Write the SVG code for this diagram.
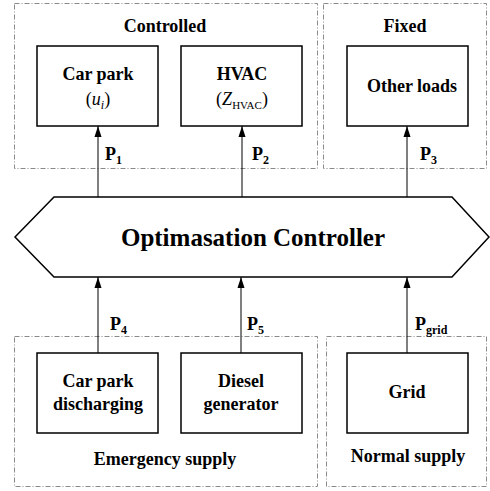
<svg xmlns="http://www.w3.org/2000/svg" width="490" height="491" viewBox="0 0 490 491">
  <style>
    .grp { fill: none; stroke: #8a8a8a; stroke-width: 1; stroke-dasharray: 5 2 1 2; }
    .box { fill: #fff; stroke: #000; stroke-width: 1.5; }
    .wire { fill: none; stroke: #000; stroke-width: 1; marker-end: url(#arrow); }
    text { fill: #000; font-family: "Liberation Serif", "Times New Roman", "DejaVu Serif", serif; }
    .t { font-size: 18px; font-weight: bold; text-anchor: middle; }
    .m { font-size: 18px; text-anchor: middle; }
    .p { font-size: 18px; font-weight: bold; }
    .sub { font-size: 12px; font-weight: bold; }
  </style>
  <defs>
    <!-- slim filled arrowhead, tip at the end of each flow line -->
    <marker id="arrow" viewBox="0 0 11 8" refX="11" refY="4" markerWidth="11" markerHeight="8" markerUnits="userSpaceOnUse" orient="auto">
      <path d="M0,0.5 L11,4 L0,7.5 Z" fill="#000"/>
    </marker>
  </defs>

  <!-- group frames -->
  <g id="groups">
    <rect class="grp" x="14.5" y="3.5" width="303" height="165"/>
    <rect class="grp" x="323.5" y="3.5" width="163" height="165"/>
    <rect class="grp" x="14.5" y="336.5" width="303" height="150"/>
    <rect class="grp" x="326.5" y="336.5" width="160" height="150"/>
    <text class="t" x="165" y="32">Controlled</text>
    <text class="t" x="405" y="32">Fixed</text>
    <text class="t" x="165" y="465">Emergency supply</text>
    <text class="t" x="408" y="462">Normal supply</text>
  </g>

  <!-- power flows -->
  <g id="connectors">
    <line class="wire" x1="98" y1="197" x2="98" y2="126"/>
    <line class="wire" x1="242" y1="197" x2="242" y2="126"/>
    <line class="wire" x1="407" y1="197" x2="407" y2="126"/>
    <line class="wire" x1="98" y1="353" x2="98" y2="277"/>
    <line class="wire" x1="241" y1="353" x2="241" y2="277"/>
    <line class="wire" x1="407" y1="353" x2="407" y2="277"/>
    <text class="p" x="105" y="160">P<tspan class="sub" dy="4">1</tspan></text>
    <text class="p" x="252" y="160">P<tspan class="sub" dy="4">2</tspan></text>
    <text class="p" x="420" y="160">P<tspan class="sub" dy="4">3</tspan></text>
    <text class="p" x="110" y="330">P<tspan class="sub" dy="4">4</tspan></text>
    <text class="p" x="247" y="330">P<tspan class="sub" dy="4">5</tspan></text>
    <text class="p" x="415" y="330">P<tspan class="sub" dy="4">grid</tspan></text>
  </g>

  <g id="car-park">
    <rect class="box" x="37" y="46" width="121" height="80"/>
    <text class="t" x="98" y="80">Car park</text>
    <text class="m" x="98" y="105">(<tspan font-style="italic">u</tspan><tspan font-size="12" font-style="italic" dy="4">i</tspan><tspan dy="-4">)</tspan></text>
  </g>

  <g id="hvac">
    <rect class="box" x="181" y="46" width="121" height="80"/>
    <text class="t" x="242" y="80">HVAC</text>
    <text class="m" x="242" y="105">(<tspan font-style="italic">Z</tspan><tspan font-size="11" dy="4">HVAC</tspan><tspan dy="-4">)</tspan></text>
  </g>

  <g id="other-loads">
    <rect class="box" x="347" y="46" width="121" height="80"/>
    <text class="t" x="412" y="92">Other loads</text>
  </g>

  <g id="controller">
    <polygon class="box" points="15,237 54,197 452,197 489,237 452,277 54,277"/>
    <text x="253" y="246" font-size="25" font-weight="bold" text-anchor="middle">Optimasation Controller</text>
  </g>

  <g id="car-park-discharging">
    <rect class="box" x="37" y="353" width="121" height="80"/>
    <text class="t" x="98" y="387">Car park</text>
    <text class="t" x="98" y="410">discharging</text>
  </g>

  <g id="diesel-generator">
    <rect class="box" x="181" y="353" width="121" height="80"/>
    <text class="t" x="241" y="387">Diesel</text>
    <text class="t" x="241" y="410">generator</text>
  </g>

  <g id="grid">
    <rect class="box" x="347" y="353" width="121" height="80"/>
    <text class="t" x="407" y="398">Grid</text>
  </g>
</svg>
